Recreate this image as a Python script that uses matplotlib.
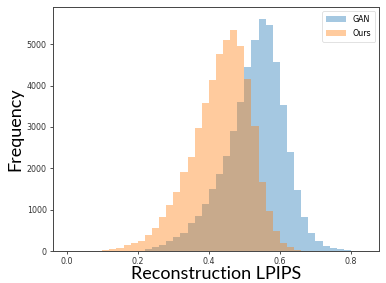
import numpy as np
import matplotlib
matplotlib.use("Agg")
import matplotlib.pyplot as plt

# bin edges (width 0.02) and counts
bin_edges = np.round(np.arange(0.0, 0.86, 0.02), 2)
bin_starts = bin_edges[:-1]

# counts per bin, starting at 0.00
gan_counts = [0, 0, 0, 0, 0, 0, 0, 0, 0, 0,
              10, 40, 90, 145, 240, 345, 440, 670, 850, 1140,
              1500, 1865, 2300, 2905, 3615, 4440, 5110, 5620, 5470, 4570,
              3520, 2390, 1480, 820, 440, 240, 130, 70, 40, 15,
              5, 0]
ours_counts = [0, 0, 0, 0, 0, 15, 50, 80, 140, 185,
               240, 390, 565, 815, 1105, 1420, 1900, 2285, 2970, 3590,
               4140, 4770, 5110, 5350, 4960, 4165, 3030, 1680, 970, 485,
               185, 90, 30, 10, 0, 0, 0, 0, 0, 0,
               0, 0]

series_labels = ["GAN", "Ours"]
x_ticks = [0.0, 0.2, 0.4, 0.6, 0.8]
y_ticks = [0, 1000, 2000, 3000, 4000, 5000]

fig = plt.figure(figsize=(3.86, 2.83), dpi=100)
ax = fig.add_axes([0.137, 0.113, 0.845, 0.862])

centers = bin_starts + 0.01
ax.hist(centers, bins=bin_edges, weights=gan_counts, alpha=0.4,
        color="tab:blue", label=series_labels[0])
ax.hist(centers, bins=bin_edges, weights=ours_counts, alpha=0.4,
        color="tab:orange", label=series_labels[1])

ax.set_xlim(-0.039, 0.879)
ax.set_ylim(0, 5900)
ax.set_xticks(x_ticks)
ax.set_xticklabels([f"{t:.1f}" for t in x_ticks])
ax.set_yticks(y_ticks)
ax.tick_params(labelsize=5.7, length=2.5, width=0.6, pad=2, colors="#333333")
for s in ax.spines.values():
    s.set_linewidth(0.7)
    s.set_color("#444444")

ax.set_xlabel("Reconstruction LPIPS", fontsize=13, family=["Lato", "DejaVu Sans"], labelpad=0)
ax.set_ylabel("Frequency", fontsize=13, family=["Lato", "DejaVu Sans"], labelpad=2)

leg = ax.legend(loc="upper right", fontsize=5.7, handlelength=2.5, borderpad=0.5,
                labelspacing=0.6, framealpha=0.8, fancybox=True)
leg.get_frame().set_linewidth(0.5)

fig.savefig("out.png", dpi=100)
